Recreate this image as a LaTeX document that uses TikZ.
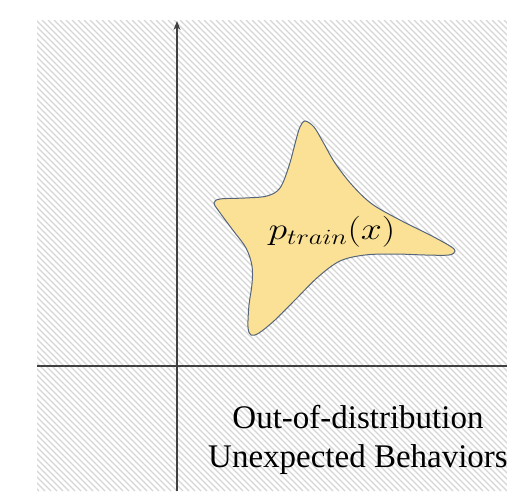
\RequirePackage{fix-cm}
\documentclass[tikz,border=0pt]{standalone}
\usepackage{fontspec}
\setmainfont{Liberation Serif}
\usetikzlibrary{arrows.meta}
\definecolor{hatchgray}{HTML}{D6D6D6}
\definecolor{starfill}{HTML}{FAE196}
\definecolor{staredge}{HTML}{56657C}
\definecolor{axisgray}{HTML}{404040}
\tikzset{
  axisline/.style={draw=axisgray, line width=1.3pt},
  hatchline/.style={draw=hatchgray, line width=1.3pt},
  blob/.style={fill=starfill, draw=staredge, line width=1pt},
  oodtext/.style={font=\fontsize{33}{39}\selectfont, align=center, anchor=base, inner sep=0pt},
  mathlabel/.style={font=\fontsize{31}{31}\selectfont, inner sep=0pt}
}
\begin{document}
\begin{tikzpicture}[x=1pt,y=-1pt]
\useasboundingbox (0,0) rectangle (507,491);
\fill[white] (0,0) rectangle (507,491);
\begin{scope}
  \clip (37,20) rectangle (507,491);
  \foreach \s in {-480,-474,...,510}{
    \draw[hatchline] (\s,20) -- ++(471,471);
  }
\end{scope}
\begin{scope}
\clip (0,0) rectangle (507,491);
% star-shaped region
\path[blob] plot[smooth cycle, tension=0.55] coordinates {
 (305,121) (314,127) (323,142) (335,163) (352,185) (372,204) (400,220) (430,235) (450,246) (455,251) (449,255)
 (425,255) (395,254) (365,255) (340,261) (318,277) (296,299) (275,320) (259,333) (251,335) (248,327)
 (249,305) (252,284) (252,266) (246,248) (232,229) (218,210) (214,203) (220,199) (245,198) (267,196)
 (280,188) (289,166) (296,140) (300,127)};
\node[mathlabel] (ptrain) at (332,232) {\scalebox{1.22}[1]{$p_{train}(x)$}};
% axes
\coordinate (xleft) at (37,366);
\coordinate (xright) at (507,366);
\coordinate (ybot) at (177,491);
\coordinate (ytop) at (177,21);
\draw[axisline] (xleft) -- (xright);
\draw[axisline,-{Stealth[length=9pt,width=7pt]}] (ybot) -- (ytop);
% label
\node[oodtext] (ood) at (358,467) {Out-of-distribution\\Unexpected Behaviors};
\end{scope}
\end{tikzpicture}
\end{document}
